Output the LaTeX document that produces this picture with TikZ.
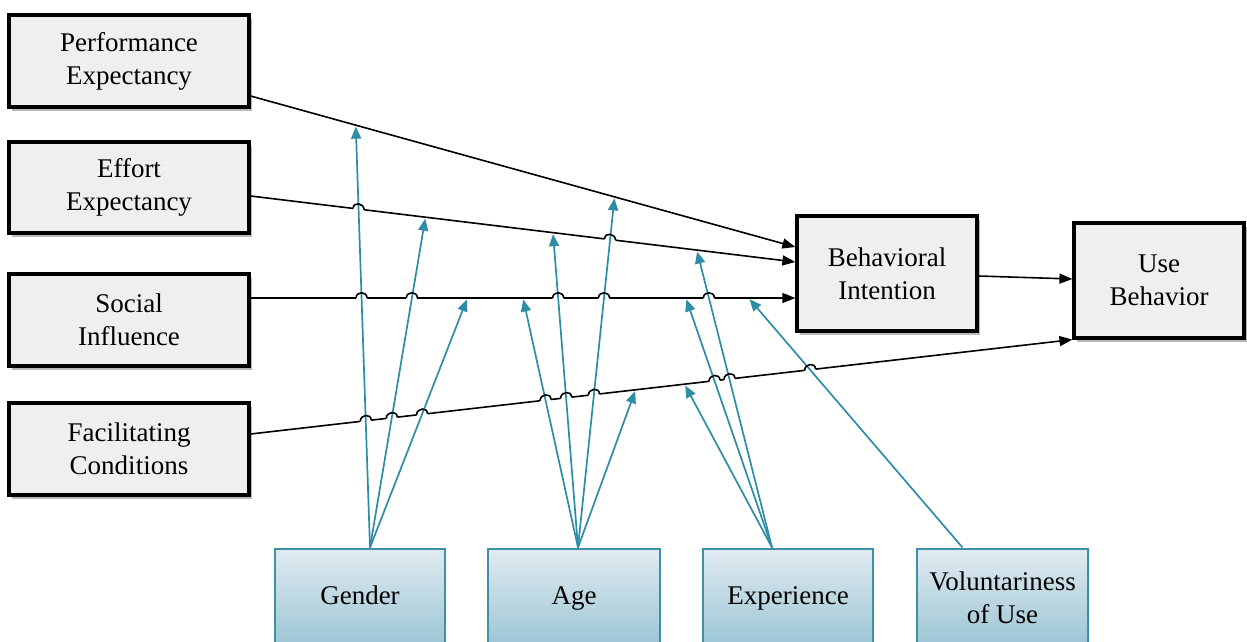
\documentclass[tikz,border=0pt]{standalone}
\usepackage{fontspec}
\setmainfont{Liberation Serif}
\usetikzlibrary{arrows.meta,calc,intersections,shadows}
\definecolor{boxgray}{HTML}{EFEFEF}
\definecolor{tealc}{HTML}{2E8DA6}
\definecolor{modborder}{HTML}{3E90A5}
\definecolor{modtop}{HTML}{E1EBF1}
\definecolor{modbot}{HTML}{9AC5D4}
\begin{document}
\begin{tikzpicture}[x=1pt,y=-1pt,
  construct/.style={draw=black, line width=3.2pt, fill=boxgray, align=center, inner sep=0pt,
    font=\fontsize{27}{33}\selectfont,
    drop shadow={shadow xshift=3pt, shadow yshift=-4pt, opacity=0.28, fill=black}},
  moderator/.style={draw=modborder, line width=2pt, top color=modtop, bottom color=modbot,
    align=center, inner sep=0pt, minimum height=99pt, font=\fontsize{27}{33}\selectfont},
  oneline/.style={text height=19pt, text depth=6pt},
  blk/.style={draw=black, line width=1.6pt},
  blkarrow/.style={blk, -{Triangle[length=13pt,width=10pt]}},
  tarr/.style={draw=tealc, line width=1.7pt, shorten >=1.5pt, -{Triangle[length=12pt,width=10pt]}},
]
\useasboundingbox (0,0) rectangle (1247,641);

% constructs
\node[construct, minimum width=240pt, minimum height=92pt] (pe) at (129,61) {Performance\\Expectancy};
\node[construct, minimum width=240pt, minimum height=91pt] (ee) at (129,187.5) {Effort\\Expectancy};
\node[construct, minimum width=240pt, minimum height=92pt] (si) at (129,320) {Social\\Influence};
\node[construct, minimum width=240pt, minimum height=92pt] (fc) at (129,449) {Facilitating\\Conditions};
\node[construct, minimum width=180pt, minimum height=115pt] (bi) at (887,273.5) {Behavioral\\Intention};
\node[construct, minimum width=170pt, minimum height=115pt] (ub) at (1159,280.5) {Use\\Behavior};

% moderators
\node[moderator, oneline, minimum width=170pt] (gender) at (360,598) {Gender};
\node[moderator, oneline, minimum width=172pt] (age) at (574,598) {Age};
\node[moderator, oneline, minimum width=170pt] (exp) at (788,598) {Experience};
\node[moderator, minimum width=171pt] (vol) at (1002.5,598) {Voluntariness\\of Use};

% line end points
\coordinate (peS) at ([yshift=-35pt]pe.east);
\coordinate (peE) at ([yshift=26.5pt]bi.west);
\coordinate (eeS) at ([yshift=-8.5pt]ee.east);
\coordinate (eeE) at ([yshift=11.5pt]bi.west);
\coordinate (siS) at ([yshift=22pt]si.east);
\coordinate (siE) at ([yshift=-24.5pt]bi.west);
\coordinate (fcS) at ([yshift=15pt]fc.east);
\coordinate (fcE) at (ub.south west);
\coordinate (biS) at ([yshift=-2.5pt]bi.east);
\coordinate (ubE) at ([yshift=1.5pt]ub.west);

% moderator start points
\coordinate (gS) at ([xshift=10pt]gender.north);
\coordinate (aS) at ([xshift=4pt]age.north);
\coordinate (eS) at ([xshift=-16pt]exp.north);
\coordinate (vS) at ([xshift=-40pt]vol.north);

% moderator targets on the paths
\coordinate (tg1) at ($(peS)!0.193!(peE)$);
\coordinate (tg2) at ($(eeS)!0.321!(eeE)$);
\coordinate (tg3) at ($(siS)!0.398!(siE)$);
\coordinate (ta1) at ($(siS)!0.5!(siE)$);
\coordinate (ta2) at ($(eeS)!0.555!(eeE)$);
\coordinate (ta3) at ($(peS)!0.668!(peE)$);
\coordinate (ta4) at ($(fcS)!0.4685!(fcE)$);
\coordinate (te1) at ($(siS)!0.799!(siE)$);
\coordinate (te2) at ($(eeS)!0.819!(eeE)$);
\coordinate (te3) at ($(fcS)!0.528!(fcE)$);
\coordinate (tv) at ($(siS)!0.914!(siE)$);

% main paths
\draw[blkarrow, name path=Lpe] (peS) -- (peE);
\draw[blkarrow, name path=Lee] (eeS) -- (eeE);
\draw[blkarrow, name path=Lsi] (siS) -- (siE);
\draw[blkarrow, name path=Lfc] (fcS) -- (fcE);
\draw[blkarrow] (biS) -- (ubE);

% moderator paths (for intersections)
\path[name path=g1] (gS) -- (tg1);
\path[name path=g2] (gS) -- (tg2);
\path[name path=g3] (gS) -- (tg3);
\path[name path=a1] (aS) -- (ta1);
\path[name path=a2] (aS) -- (ta2);
\path[name path=a3] (aS) -- (ta3);
\path[name path=e1] (eS) -- (te1);
\path[name path=e2] (eS) -- (te2);
\path[name path=v] (vS) -- (tv);

\def\hoplist{g1/ee, g1/si, g1/fc, g2/si, g2/fc, g3/fc, a1/fc, a2/si, a2/fc, a3/ee, a3/si, a3/fc, e1/fc, e2/si, e2/fc, v/fc}

% erase under hops
\foreach \tpath/\lname in \hoplist {
  \edef\findhop{\noexpand\path[name intersections={of=\tpath\space and L\lname, by=hx}];}
  \findhop
  \draw[white, line width=4.5pt] ($(hx)!5.5pt!(\lname S)$) -- ($(hx)!5.5pt!(\lname E)$);
}

% moderator arrows
\draw[tarr] (gS) -- (tg1);
\draw[tarr] (gS) -- (tg2);
\draw[tarr] (gS) -- (tg3);
\draw[tarr] (aS) -- (ta1);
\draw[tarr] (aS) -- (ta2);
\draw[tarr] (aS) -- (ta3);
\draw[tarr] (aS) -- (ta4);
\draw[tarr] (eS) -- (te1);
\draw[tarr] (eS) -- (te2);
\draw[tarr] (eS) -- (te3);
\draw[tarr] (vS) -- (tv);

% hops
\foreach \tpath/\lname in \hoplist {
  \edef\findhop{\noexpand\path[name intersections={of=\tpath\space and L\lname, by=hy}];}
  \findhop
  \draw[blk] ($(hy)!5.5pt!(\lname S)$) .. controls +(0pt,7pt) and +(0pt,7pt) .. ($(hy)!5.5pt!(\lname E)$);
}
\end{tikzpicture}
\end{document}
